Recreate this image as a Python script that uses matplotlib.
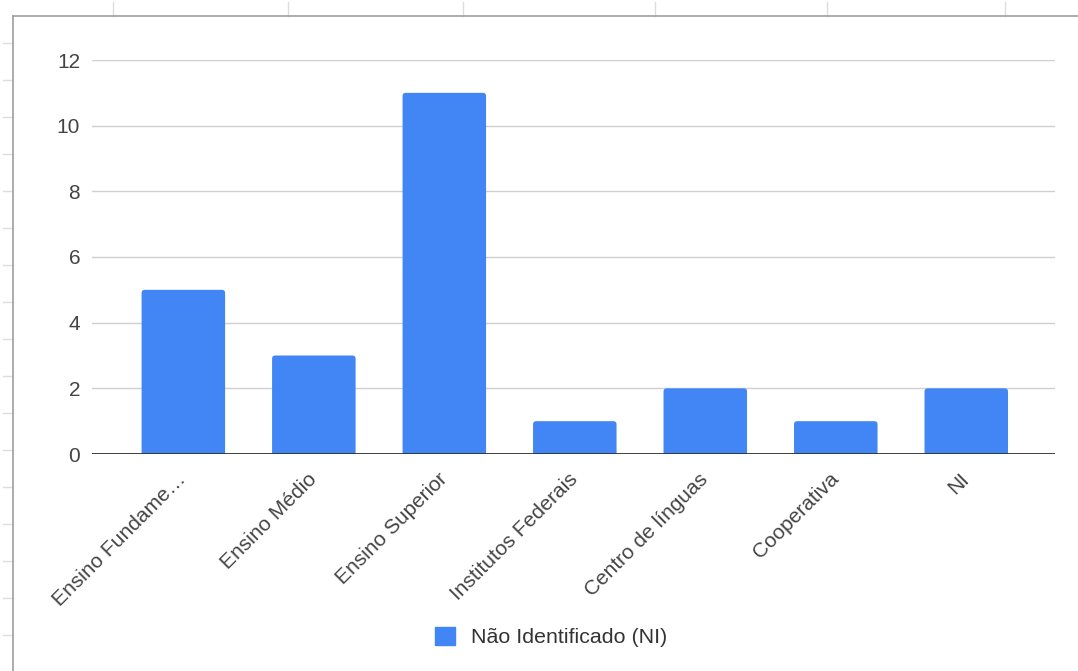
import matplotlib.pyplot as plt
from matplotlib.lines import Line2D
from matplotlib.patches import FancyBboxPatch

categories = ["Ensino Fundame\u2026", "Ensino Médio", "Ensino Superior",
              "Institutos Federais", "Centro de línguas", "Cooperativa", "NI"]
valores = [5, 3, 11, 1, 2, 1, 2]
serie = "Não Identificado (NI)"
yticks = [0, 2, 4, 6, 8, 10, 12]

plt.rcParams['font.family'] = ['Liberation Sans', 'DejaVu Sans']

W, H = 1078, 671
fig = plt.figure(figsize=(W / 100, H / 100), dpi=100)


def px(x, y):
    # pixel coords (top-left origin) -> figure fraction
    return x / W, 1 - y / H


# spreadsheet frame and faint cell marks around the chart
for x in [113, 288, 463, 655, 827, 1005]:
    (x0, y0), (x1, y1) = px(x, 2), px(x, 16)
    fig.add_artist(Line2D([x0, x1], [y0, y1], color='#dddddd', lw=1))
for y in range(43, 671, 37):
    (x0, y0), (x1, y1) = px(3, y), px(13, y)
    fig.add_artist(Line2D([x0, x1], [y0, y1], color='#dddddd', lw=1))
(x0, y0), (x1, y1) = px(13, 16), px(W, 16)
fig.add_artist(Line2D([x0, x1], [y0, y1], color='#9e9e9e', lw=1.2))
(x0, y0), (x1, y1) = px(13, 16), px(13, H)
fig.add_artist(Line2D([x0, x1], [y0, y1], color='#9e9e9e', lw=1.2))

left, bottom = px(92, 454)
right, top = px(1055, 60)
ax = fig.add_axes([left, bottom, right - left, top - bottom])

xpos = list(range(len(categories)))
bars = ax.bar(xpos, valores, width=0.64, color='#4285f4', label=serie, zorder=3)

ax.set_xlim(-0.70, 6.68)
ax.set_ylim(0, 12)

# rounded top corners like the Google Sheets bars
for b in bars:
    b.set_visible(False)
    r = FancyBboxPatch((b.get_x(), -0.3), b.get_width(), b.get_height() + 0.3,
                       boxstyle="round,pad=0,rounding_size=0.025",
                       mutation_aspect=3.9, facecolor='#4285f4', edgecolor='none',
                       zorder=3)
    ax.add_patch(r)

ax.set_yticks(yticks)
ax.set_yticklabels([str(v) for v in yticks])
ax.yaxis.grid(True, color='#d0d0d0', lw=1, zorder=0)
ax.axhline(0, color='#333333', lw=1.3, zorder=4)

for s in ax.spines.values():
    s.set_visible(False)
ax.tick_params(axis='both', length=0, labelsize=15, colors='#444444')
ax.tick_params(axis='y', pad=8.5)

ax.set_xticks(xpos)
ax.set_xticklabels(categories, rotation=45, ha='right', va='center',
                   rotation_mode='anchor')
ax.tick_params(axis='x', pad=16)

proxy = plt.Rectangle((0, 0), 1, 1, color='#4285f4')
lx, ly = px(551, 637)
fig.legend(handles=[proxy], labels=[serie], loc='center', bbox_to_anchor=(lx, ly),
           frameon=False, fontsize=15.4, handlelength=0.95, handleheight=0.95,
           handletextpad=0.75, labelcolor='#333333')

fig.savefig('out.png', dpi=100)
